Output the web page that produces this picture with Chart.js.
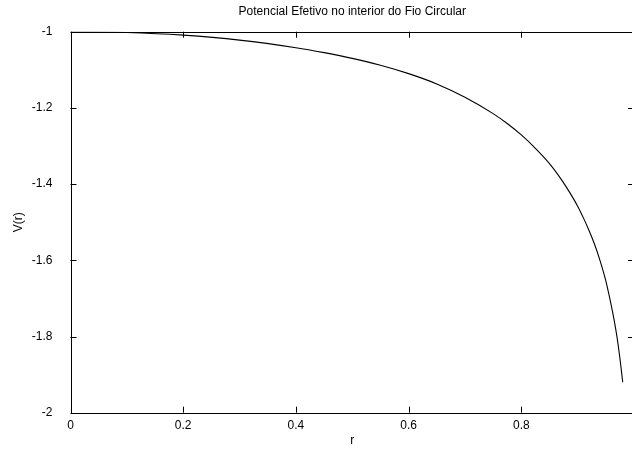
<!DOCTYPE html>
<html>
<head>
<meta charset="utf-8">
<script src="https://cdn.jsdelivr.net/npm/chart.js@4/dist/chart.umd.min.js"></script>
<style>
html,body{margin:0;padding:0;background:#fff;overflow:hidden;}
#wrap{width:640px;height:450px;}
</style>
</head>
<body>
<div id="wrap"><canvas id="c" width="640" height="450"></canvas></div>
<script>
const titleText = "Potencial Efetivo no interior do Fio Circular";
const xLabel = "r";
const yLabel = "V(r)";
const rValues = [0, 0.1, 0.2, 0.3, 0.4, 0.45, 0.5, 0.55, 0.6, 0.65, 0.7, 0.75, 0.775, 0.8, 0.825, 0.85, 0.865, 0.88, 0.9, 0.91, 0.92, 0.93, 0.94, 0.95, 0.96, 0.965, 0.97, 0.975, 0.98];
const vValues = [-1, -1.002, -1.009, -1.022, -1.042, -1.055, -1.070, -1.088, -1.110, -1.137, -1.172, -1.215, -1.241, -1.271, -1.306, -1.346, -1.375, -1.408, -1.458, -1.488, -1.521, -1.558, -1.602, -1.654, -1.721, -1.759, -1.803, -1.857, -1.920];
const xTicks = [0, 0.2, 0.4, 0.6, 0.8, 1.0];
const xTickLabels = ["0", "0.2", "0.4", "0.6", "0.8", ""];
const yTicks = [-1, -1.2, -1.4, -1.6, -1.8, -2];
const yTickLabels = ["-1", "-1.2", "-1.4", "-1.6", "-1.8", "-2"];

const FONT = "'Liberation Sans', Arial, Helvetica, sans-serif";

const framePlugin = {
  id: 'frame',
  afterDraw(chart) {
    const {ctx, chartArea: a, scales: {x, y}} = chart;
    ctx.save();
    ctx.strokeStyle = '#000';
    ctx.lineWidth = 1;
    ctx.strokeRect(Math.round(a.left) + 0.5, Math.round(a.top) + 0.5, Math.round(a.right - a.left), Math.round(a.bottom - a.top));
    const L = 6;
    ctx.beginPath();
    xTicks.forEach(v => {
      const px = Math.round(x.getPixelForValue(v)) + 0.5;
      ctx.moveTo(px, a.bottom); ctx.lineTo(px, a.bottom - L);
      ctx.moveTo(px, a.top); ctx.lineTo(px, a.top + L);
    });
    yTicks.forEach(v => {
      const py = Math.round(y.getPixelForValue(v)) + 0.5;
      ctx.moveTo(a.left, py); ctx.lineTo(a.left + L, py);
      ctx.moveTo(a.right, py); ctx.lineTo(a.right - L, py);
    });
    ctx.stroke();
    ctx.fillStyle = '#000';
    ctx.font = "12px " + FONT;
    ctx.textAlign = 'center';
    ctx.textBaseline = 'middle';
    ctx.fillText(titleText, (a.left + a.right) / 2, 12);
    ctx.restore();
  }
};

new Chart(document.getElementById('c'), {
  type: 'line',
  data: {
    datasets: [{
      data: rValues.map((r, i) => ({x: r, y: vValues[i]})),
      borderColor: '#000',
      borderWidth: 1.1,
      pointRadius: 0,
      fill: false,
      cubicInterpolationMode: 'monotone'
    }]
  },
  options: {
    responsive: false,
    animation: false,
    events: [],
    layout: {padding: {top: 31.7, right: 2.5, left: 0, bottom: 0}},
    plugins: {legend: {display: false}, tooltip: {enabled: false}, title: {display: false}},
    scales: {
      x: {
        type: 'linear', min: 0, max: 1,
        grid: {display: false, drawTicks: false},
        border: {display: false},
        afterBuildTicks: s => { s.ticks = xTicks.map(v => ({value: v})); },
        afterFit: s => { s.height = 37.3; },
        ticks: {
          padding: 6, color: '#000', font: {family: FONT, size: 12},
          maxRotation: 0, autoSkip: false,
          callback: (v, i) => xTickLabels[i]
        },
        title: {display: true, text: xLabel, color: '#000', font: {family: FONT, size: 12}, padding: {top: 0, bottom: 2}}
      },
      y: {
        type: 'linear', min: -2, max: -1,
        grid: {display: false, drawTicks: false},
        border: {display: false},
        afterBuildTicks: s => { s.ticks = yTicks.map(v => ({value: v})); },
        afterFit: s => { s.width = 70.5; },
        ticks: {
          padding: 18, color: '#000', font: {family: FONT, size: 12},
          autoSkip: false,
          callback: (v, i) => yTickLabels[i]
        },
        title: {display: true, text: yLabel, color: '#000', font: {family: FONT, size: 12}, padding: {top: 11, bottom: 0}}
      }
    }
  },
  plugins: [framePlugin]
});
</script>
</body>
</html>
